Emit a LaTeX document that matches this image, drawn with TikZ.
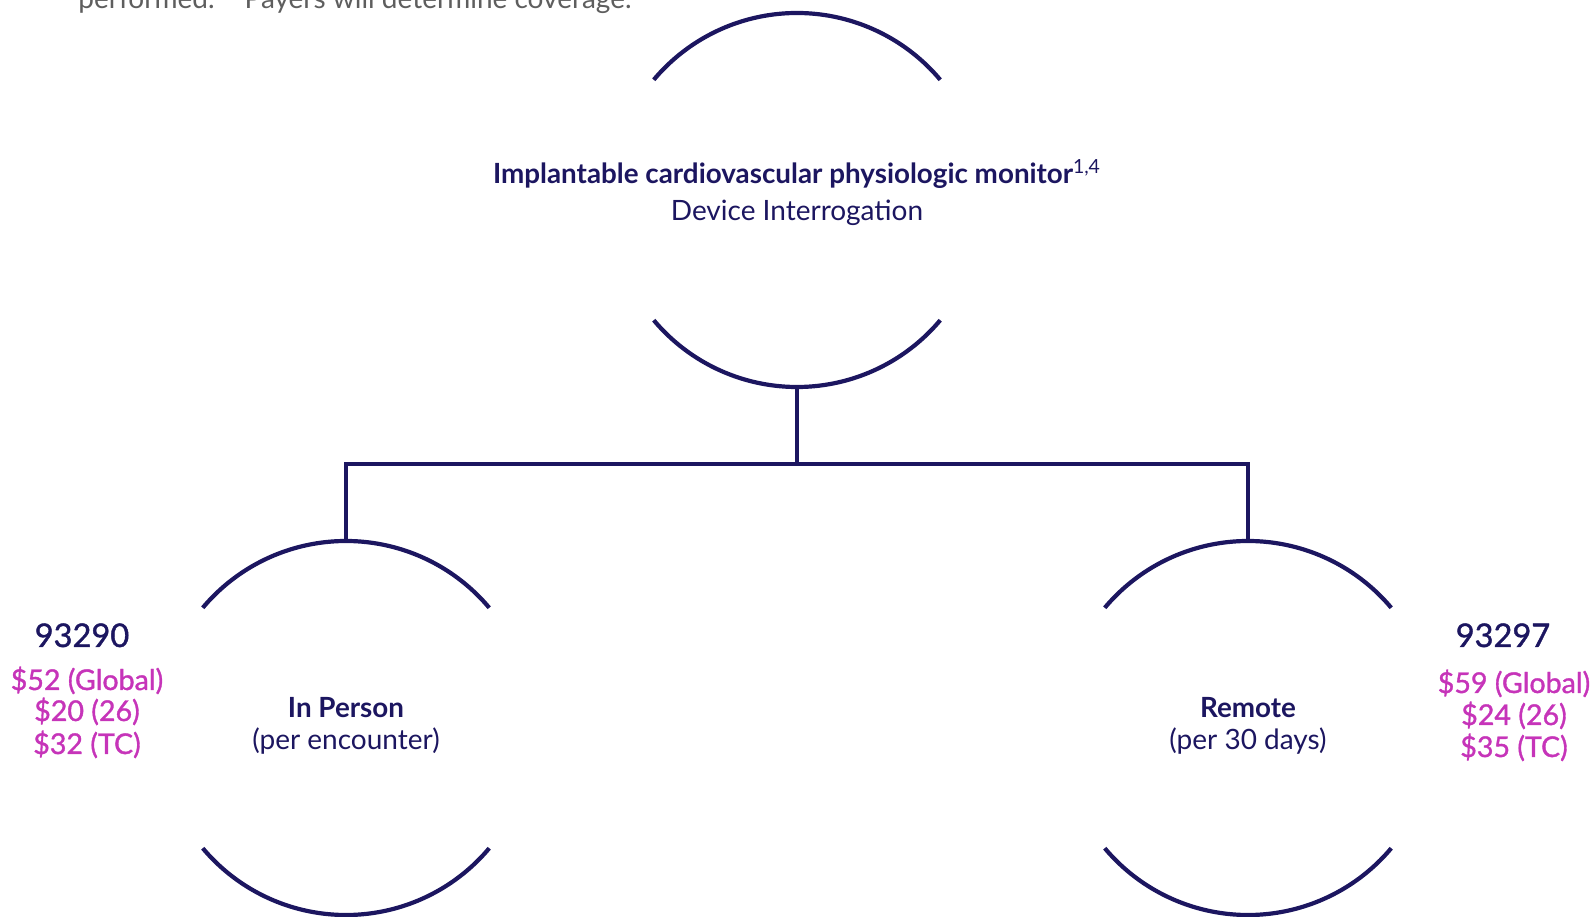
\documentclass[tikz,border=0pt]{standalone}
\usepackage{fontspec}
\setmainfont{Lato}
\newfontfamily\medfont[FakeBold=1.2]{Lato}
\usetikzlibrary{calc}

\definecolor{navy}{HTML}{1C1660}
\definecolor{fee}{HTML}{C634B9}
\definecolor{note}{HTML}{5E5E5E}

\tikzset{
  ring/.style={circle, minimum size=187pt, inner sep=0pt, outer sep=0pt},
  stroke/.style={draw=navy, line width=2.1pt},
  code/.style={anchor=base, text=navy, font=\medfont\fontsize{16.3}{18}\selectfont},
  price/.style={anchor=base, text=fee, font=\medfont\fontsize{14.3}{16}\selectfont},
  head/.style={anchor=base, text=navy, font=\bfseries\fontsize{13.9}{16}\selectfont},
  sub/.style={anchor=base, text=navy, font=\fontsize{14}{16}\selectfont}
}

\begin{document}
\begin{tikzpicture}[x=0.5pt, y=0.5pt]
                \useasboundingbox (0,0) rectangle (1596,916);

                % text cut off at the top edge
                \node[anchor=base west, text=note, font=\fontsize{14}{16}\selectfont, inner sep=0pt] (cut) at (78,907) {performed.\hspace{15pt}Payers will determine coverage.};

                \node[ring] (top) at (797,716) {};
                \node[ring] (inperson) at (346,188) {};
                \node[ring] (remote) at (1248,188) {};

                % Draw the upper and lower arc of a ring node
                \def\drawArcs#1{
                    \draw[stroke] (#1.40) arc[start angle=40, end angle=140, radius=93.5pt];
                    \draw[stroke] (#1.220) arc[start angle=220, end angle=320, radius=93.5pt];
                }

                \drawArcs{top}
                \drawArcs{inperson}
                \drawArcs{remote}

                \draw[stroke] (top.south) -- ++(0,-77) coordinate (split);
                \draw[stroke] (inperson.north) |- (split) -| (remote.north);

                \node[head] (toptitle) at (797,732) {Implantable cardiovascular physiologic monitor\textsuperscript{\mdseries 1,4}};
                \node[sub] (topsub) at (797,695) {Device Interrogation};

                \node[head] (iptitle) at (346,198) {In Person};
                \node[sub] (ipsub) at (346,166) {(per encounter)};
                \node[head] (rmtitle) at (1248,198) {Remote};
                \node[sub] (rmsub) at (1248,166) {(per 30 days)};

                \node[code] (ipcode) at (82,269) {93290};
                \node[price] (ipglobal) at (87,226) {\$52 (Global)};
                \node[price] (ippro) at (87,195) {\$20 (26)};
                \node[price] (iptc) at (87,162) {\$32 (TC)};

                \node[code] (rmcode) at (1503,269) {93297};
                \node[price] (rmglobal) at (1514,223) {\$59 (Global)};
                \node[price] (rmpro) at (1514,191) {\$24 (26)};
                \node[price] (rmtc) at (1514,159) {\$35 (TC)};
            \end{tikzpicture}
\end{document}
